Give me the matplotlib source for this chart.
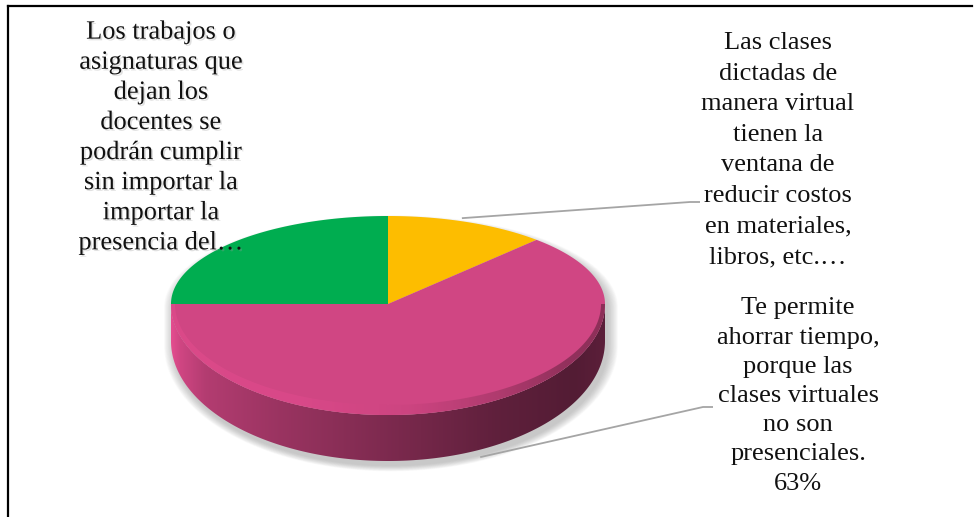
import numpy as np
import matplotlib
matplotlib.use("Agg")
import matplotlib.pyplot as plt
from matplotlib.patches import Polygon
import matplotlib.patheffects as pe

# ---- data -------------------------------------------------------------
categories = [
    "Las clases\ndictadas de\nmanera virtual\ntienen la\nventana de\nreducir costos\nen materiales,\nlibros, etc.…",
    "Te permite\nahorrar tiempo,\nporque las\nclases virtuales\nno son\npresenciales.",
    "Los trabajos o\nasignaturas que\ndejan los\ndocentes se\npodrán cumplir\nsin importar la\nimportar la\npresencia del…",
]
shares = [12, 63, 25]
show_pct = [False, True, False]
colors = ["#FDBD00", "#D04683", "#00AD50"]

# ---- layout -----------------------------------------------------------
W, H = 975, 517
cx, cy = 388.0, 304.0            # pie centre on the top face
ra = 217.0                       # horizontal radius
rb_back, rb_front = 88.0, 111.0  # vertical radii (perspective)
d_side, d_front = 37.0, 46.0     # thickness at the sides / front

fig = plt.figure(figsize=(W / 100, H / 100), dpi=100)
ax = fig.add_axes([0, 0, 1, 1])
ax.set_xlim(0, W)
ax.set_ylim(H, 0)
ax.axis("off")


def rim(t, depth=False, shrink_a=0.0, shrink_b=0.0):
    t = np.asarray(t, dtype=float)
    s = np.sin(t)
    rb = np.where(s > 0, rb_back, rb_front - shrink_b)
    x = cx + (ra - shrink_a) * np.cos(t)
    y = cy - rb * s
    if depth:
        y = y + d_side + (d_front - d_side) * np.clip(-s, 0, None)
    return x, y


def gradient_fill(poly_xy, base, xs, mults, zorder, alpha=1.0):
    """Fill a polygon with a horizontal shade of a base colour."""
    base = np.array(matplotlib.colors.to_rgb(base))
    cols = np.linspace(0, W, 976)
    u = (cols - (cx - ra)) / (2 * ra)
    m = np.interp(u, xs, mults)
    row = np.clip(base[None, :] * m[:, None], 0, 1)
    img = np.repeat(row[None, :, :], 2, axis=0)
    im = ax.imshow(img, extent=(0, W, H, 0), aspect="auto", alpha=alpha,
                   interpolation="bilinear", zorder=zorder)
    clip = Polygon(poly_xy, closed=True, transform=ax.transData,
                   facecolor="none", edgecolor="none")
    ax.add_patch(clip)
    im.set_clip_path(clip)


# slice boundaries: start at 12 o'clock, run clockwise
fr = np.array(shares, dtype=float) / np.sum(shares)
edges = np.deg2rad(90.0 - 360.0 * np.concatenate([[0], np.cumsum(fr)]))

# soft shadow under the pie
tt_up = np.linspace(0, np.pi, 200)
tt_lo = np.linspace(np.pi, 2 * np.pi, 200)
sx = np.concatenate([rim(tt_up)[0], rim(tt_lo, depth=True)[0]])
sy = np.concatenate([rim(tt_up)[1], rim(tt_lo, depth=True)[1]])
for k in range(14):
    s = 1.0 + 0.0035 * k
    ax.add_patch(Polygon(np.c_[cx + (sx - cx) * s + 3, cy + 40 + (sy - cy - 40) * s + 5],
                         closed=True, facecolor="#808080", edgecolor="none",
                         alpha=0.035, zorder=1))

# side walls (only the front half is visible)
side_x = [0.0, 0.02, 0.08, 0.25, 0.5, 0.75, 0.93, 1.0]
side_m = [1.10, 1.00, 0.86, 0.74, 0.60, 0.46, 0.40, 0.44]
for i in range(len(shares)):
    t0, t1 = edges[i], edges[i + 1]          # t0 > t1
    lo, hi = max(t1, -np.pi), min(t0, 0.0)
    if hi <= lo:
        continue
    tt = np.linspace(hi, lo, 300)
    xt, yt = rim(tt)
    xb, yb = rim(tt, depth=True)
    poly = np.c_[np.concatenate([xt, xb[::-1]]), np.concatenate([yt, yb[::-1]])]
    gradient_fill(poly, colors[i], side_x, side_m, zorder=2)

# top faces
for i in range(len(shares)):
    tt = np.linspace(edges[i], edges[i + 1], 300)
    xt, yt = rim(tt)
    poly = np.c_[np.concatenate([[cx], xt]), np.concatenate([[cy], yt])]
    ax.add_patch(Polygon(poly, closed=True, facecolor=colors[i],
                         edgecolor="none", zorder=3))

# rounded bevel along the front rim of the top face
bev_x = [0.0, 0.05, 0.3, 0.55, 0.75, 0.9, 1.0]
bev_m = [1.06, 1.06, 1.05, 0.98, 0.82, 0.66, 0.62]
for i in range(len(shares)):
    t0, t1 = edges[i], edges[i + 1]
    lo, hi = max(t1, -np.pi), min(t0, 0.0)
    if hi <= lo:
        continue
    tt = np.linspace(hi, lo, 300)
    xo, yo = rim(tt)
    xi, yi = rim(tt, shrink_a=4, shrink_b=10)
    poly = np.c_[np.concatenate([xo, xi[::-1]]), np.concatenate([yo, yi[::-1]])]
    gradient_fill(poly, colors[i], bev_x, bev_m, zorder=4, alpha=0.85)

# ---- labels and leader lines -----------------------------------------
font = dict(family="Liberation Serif", size=19, color="#111111",
            ha="center", va="center", zorder=6)
label_pos = [(778, 150), (798, 396), (161, 138)]
line_gap = [30.6, 29.2, 30.1]
leader_end = [(690, 202), (703, 407), None]
mids = (edges[:-1] + edges[1:]) / 2

for i, txt in enumerate(categories):
    if show_pct[i]:
        txt = f"{txt}\n{shares[i]}%"
    effects = None
    if i == 2:
        effects = [pe.SimplePatchShadow(offset=(1.2, -1.2), shadow_rgbFace="#9a9a9a",
                                        alpha=0.3), pe.Normal()]
    lines = txt.split("\n")
    n = len(lines)
    lx, ly = label_pos[i]
    for j, line in enumerate(lines):
        ax.text(lx, ly + (j - (n - 1) / 2) * line_gap[i], line,
                path_effects=effects, **font)
    if leader_end[i] is not None:
        m = mids[i]
        if np.sin(m) < 0:
            x0, y0 = rim(m, depth=True)
            x0, y0 = float(x0) + 6, float(y0) + 6
        else:
            x0, y0 = rim(m)
            x0, y0 = float(x0) - 6, float(y0) - 4
        ex, ey = leader_end[i]
        ax.plot([x0, ex, ex + 10], [y0, ey, ey], color="#A5A5A5", lw=1.3,
                solid_capstyle="butt", zorder=5)

# frame
ax.plot([7.5, 972], [6, 6], color="black", lw=1.6, zorder=7)
ax.plot([7.5, 7.5], [6, H], color="black", lw=1.6, zorder=7)

fig.savefig("out.png", dpi=100)
